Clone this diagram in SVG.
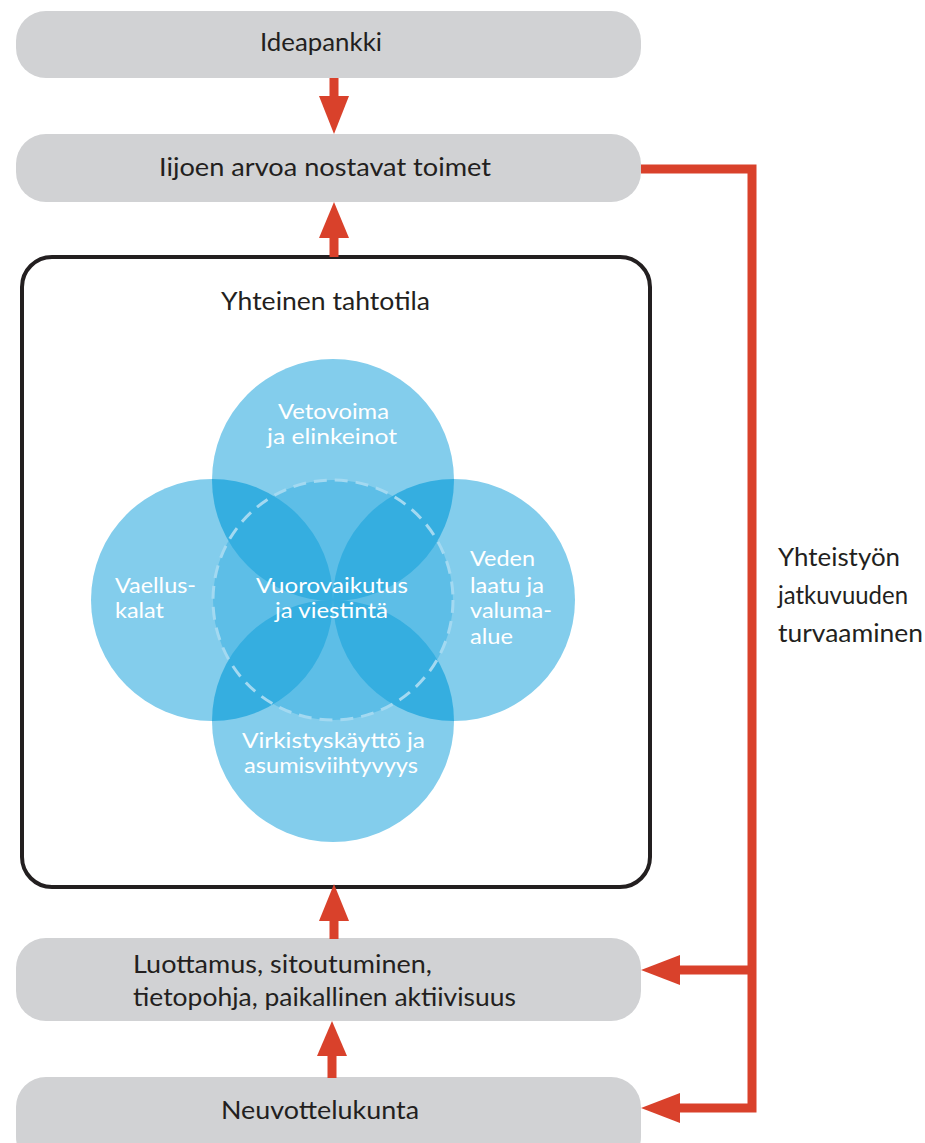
<svg xmlns="http://www.w3.org/2000/svg" width="925" height="1143" viewBox="0 0 925 1143">
<style>
.box{fill:#d1d2d4}
.t{font-family:Lato,"Open Sans","Liberation Sans",sans-serif;font-size:25px;fill:#231f20}
.w{font-family:Lato,"Open Sans","Liberation Sans",sans-serif;font-size:21px;fill:#ffffff}
.red{fill:#d9412b}
.redl{stroke:#d9412b;stroke-width:9;fill:none}
.c{fill:#83cdec}
.lens{fill:#35aee0}
</style>
<defs>
<clipPath id="cpT"><circle cx="333" cy="480" r="121"/></clipPath>
<clipPath id="cpB"><circle cx="333" cy="721" r="121"/></clipPath>
</defs>

<g id="ideapankki">
<rect class="box" x="16" y="11" width="625" height="67" rx="30"/>
<text class="t" x="260" y="51" textLength="122" lengthAdjust="spacingAndGlyphs">Ideapankki</text>
</g>

<g id="toimet">
<rect class="box" x="16" y="134" width="625" height="68" rx="30"/>
<text class="t" x="159" y="176" textLength="332" lengthAdjust="spacingAndGlyphs">Iijoen arvoa nostavat toimet</text>
</g>

<g id="tahtotila">
<rect x="22" y="257" width="628" height="630" rx="30" fill="#ffffff" stroke="#231f20" stroke-width="4"/>
<text class="t" x="221" y="310" textLength="209" lengthAdjust="spacingAndGlyphs">Yhteinen tahtotila</text>
</g>

<g id="venn">
<circle class="c" cx="333" cy="480" r="121"/>
<circle class="c" cx="212" cy="600" r="121"/>
<circle class="c" cx="454" cy="600" r="121"/>
<circle class="c" cx="333" cy="721" r="121"/>
<circle cx="333" cy="600" r="120" fill="#5dbee7"/>
<g clip-path="url(#cpT)">
<circle class="lens" cx="212" cy="600" r="121"/>
<circle class="lens" cx="454" cy="600" r="121"/>
</g>
<g clip-path="url(#cpB)">
<circle class="lens" cx="212" cy="600" r="121"/>
<circle class="lens" cx="454" cy="600" r="121"/>
</g>
<circle cx="333" cy="600" r="120" fill="none" stroke="#a3d9f1" stroke-width="3" stroke-dasharray="13 8"/>
</g>

<g id="vetovoima">
<text class="w" x="278" y="419" textLength="111" lengthAdjust="spacingAndGlyphs">Vetovoima</text>
<text class="w" x="267" y="444" textLength="130" lengthAdjust="spacingAndGlyphs">ja elinkeinot</text>
</g>
<g id="vaelluskalat">
<text class="w" x="115" y="593" textLength="81" lengthAdjust="spacingAndGlyphs">Vaellus-</text>
<text class="w" x="115" y="618" textLength="49" lengthAdjust="spacingAndGlyphs">kalat</text>
</g>
<g id="vuorovaikutus">
<text class="w" x="256" y="593" textLength="152" lengthAdjust="spacingAndGlyphs">Vuorovaikutus</text>
<text class="w" x="275" y="618" textLength="113" lengthAdjust="spacingAndGlyphs">ja viestintä</text>
</g>
<g id="veden">
<text class="w" x="470" y="566" textLength="65" lengthAdjust="spacingAndGlyphs">Veden</text>
<text class="w" x="470" y="593" textLength="74" lengthAdjust="spacingAndGlyphs">laatu ja</text>
<text class="w" x="470" y="618" textLength="82" lengthAdjust="spacingAndGlyphs">valuma-</text>
<text class="w" x="470" y="644" textLength="43" lengthAdjust="spacingAndGlyphs">alue</text>
</g>
<g id="virkistys">
<text class="w" x="242" y="748" textLength="183" lengthAdjust="spacingAndGlyphs">Virkistyskäyttö ja</text>
<text class="w" x="244" y="773" textLength="174" lengthAdjust="spacingAndGlyphs">asumisviihtyvyys</text>
</g>

<g id="luottamus">
<rect class="box" x="16" y="938" width="625" height="83" rx="30"/>
<text class="t" x="133" y="973" textLength="299" lengthAdjust="spacingAndGlyphs">Luottamus, sitoutuminen,</text>
<text class="t" x="133" y="1006" textLength="383" lengthAdjust="spacingAndGlyphs">tietopohja, paikallinen aktiivisuus</text>
</g>

<g id="neuvottelukunta">
<rect class="box" x="16" y="1077" width="625" height="90" rx="30"/>
<text class="t" x="221" y="1119" textLength="198" lengthAdjust="spacingAndGlyphs">Neuvottelukunta</text>
</g>

<g id="yhteistyo">
<text class="t" x="778" y="566" textLength="122" lengthAdjust="spacingAndGlyphs">Yhteistyön</text>
<text class="t" x="778" y="604" textLength="130" lengthAdjust="spacingAndGlyphs">jatkuvuuden</text>
<text class="t" x="778" y="642" textLength="145" lengthAdjust="spacingAndGlyphs">turvaaminen</text>
</g>

<g id="connectors">
<rect class="red" x="329.5" y="78" width="9" height="20"/>
<polygon class="red" points="319,96 349,96 334,134"/>
<rect class="red" x="329.5" y="233" width="9" height="24"/>
<polygon class="red" points="319,238 349,238 334,202"/>
<rect class="red" x="329.5" y="915" width="9" height="24"/>
<polygon class="red" points="319,921 349,921 334,884"/>
<rect class="red" x="327.5" y="1050" width="9" height="28"/>
<polygon class="red" points="317,1056 347,1056 332,1021"/>
<polyline class="redl" points="641,169 752,169 752,1108 675,1108"/>
<line class="redl" x1="752" y1="970" x2="675" y2="970"/>
<polygon class="red" points="680,955 680,985 641,970"/>
<polygon class="red" points="680,1093 680,1123 641,1108"/>
</g>
</svg>
